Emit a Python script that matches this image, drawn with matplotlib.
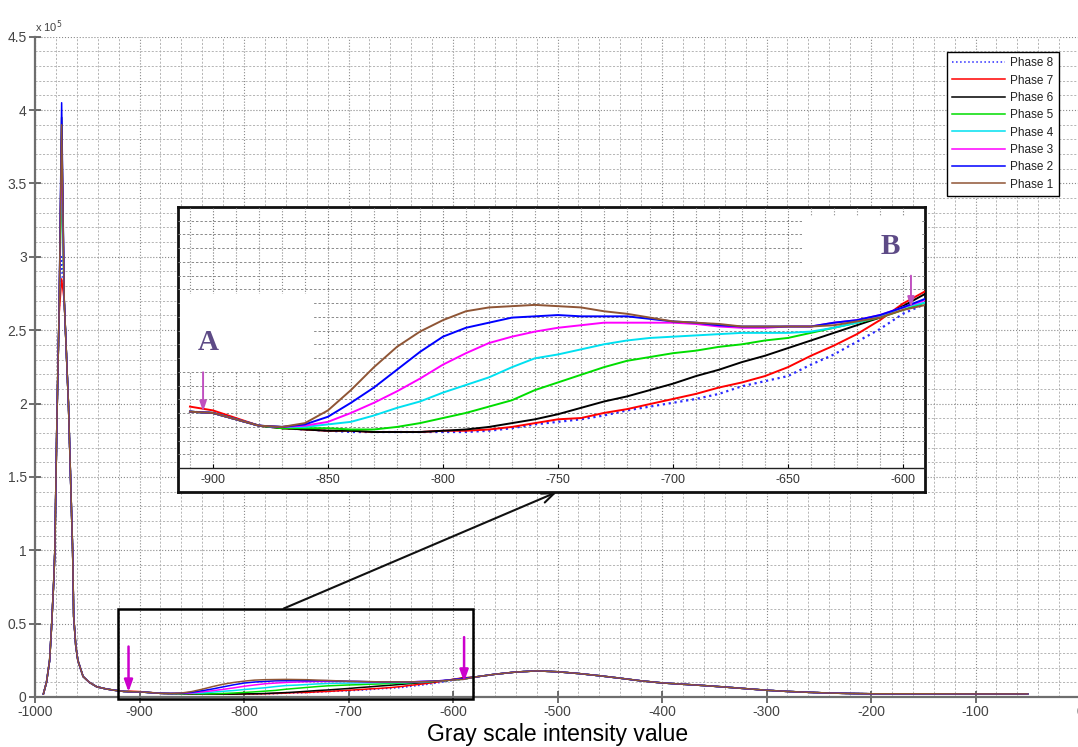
import numpy as np
import matplotlib
matplotlib.use('Agg')
import matplotlib.pyplot as plt
from matplotlib.ticker import MultipleLocator, FixedLocator, FixedFormatter, NullFormatter
from matplotlib.patches import Rectangle

plt.rcParams['font.family'] = ['Liberation Sans', 'DejaVu Sans']
plt.rcParams['axes.unicode_minus'] = False

W, H = 1078, 747

# ---------------- data (counts in units of 1e5) ----------------
phase_names = ['Phase 8', 'Phase 7', 'Phase 6', 'Phase 5', 'Phase 4', 'Phase 3', 'Phase 2', 'Phase 1']
phase_colors = ['#2a2aff', '#ff0000', '#000000', '#00dd00', '#00e0f0', '#ff00ff', '#0000ff', '#8f5535']
phase_styles = [':', '-', '-', '-', '-', '-', '-', '-']

# rising edge of the air peak (shared by all phases)
x_rise = [-992, -989, -986, -984, -982, -981, -979, -977]
y_rise = [0.02, 0.10, 0.25, 0.50, 0.80, 1.00, 1.90, 2.60]
# peak position and per-phase peak heights (Phase 8 ... Phase 1)
x_top = -974.5
peak_heights = [3.00, 2.85, 3.95, 3.50, 3.70, 3.80, 4.05, 3.90]
# falling edge of the air peak (shared)
x_fall = [-972, -968, -966, -964, -963, -961, -959, -954, -948, -941, -932, -924, -915]
y_fall = [2.70, 2.00, 1.50, 1.00, 0.55, 0.35, 0.25, 0.14, 0.10, 0.07, 0.055, 0.046, 0.038]

# region of interest (-910 ... -590, step 10), per phase
x_mid = list(range(-910, -580, 10))
mid_p8 = [0.036, 0.035, 0.030, 0.025, 0.023, 0.022, 0.021, 0.020, 0.020, 0.020, 0.020, 0.020, 0.020,
          0.021, 0.023, 0.026, 0.028, 0.030, 0.033, 0.037, 0.040, 0.043, 0.046, 0.050, 0.056, 0.060,
          0.064, 0.073, 0.081, 0.091, 0.101, 0.113, 0.121]
mid_p7 = [0.040, 0.037, 0.031, 0.025, 0.023, 0.022, 0.021, 0.021, 0.020, 0.020, 0.020, 0.021, 0.021,
          0.022, 0.024, 0.027, 0.030, 0.031, 0.035, 0.038, 0.042, 0.046, 0.050, 0.055, 0.059, 0.064,
          0.071, 0.080, 0.088, 0.097, 0.108, 0.121, 0.131]
mid_p6 = [0.036, 0.035, 0.030, 0.025, 0.023, 0.022, 0.021, 0.021, 0.020, 0.020, 0.020, 0.021, 0.022,
          0.024, 0.027, 0.030, 0.034, 0.039, 0.044, 0.048, 0.053, 0.058, 0.064, 0.069, 0.075, 0.080,
          0.086, 0.092, 0.098, 0.104, 0.110, 0.119, 0.129]
mid_p5 = [0.036, 0.035, 0.030, 0.025, 0.023, 0.023, 0.023, 0.022, 0.022, 0.024, 0.027, 0.031, 0.035,
          0.040, 0.045, 0.053, 0.059, 0.065, 0.071, 0.076, 0.079, 0.082, 0.084, 0.087, 0.089, 0.092,
          0.094, 0.098, 0.102, 0.106, 0.110, 0.116, 0.122]
mid_p4 = [0.036, 0.035, 0.030, 0.025, 0.024, 0.024, 0.026, 0.028, 0.033, 0.039, 0.044, 0.051, 0.057,
          0.063, 0.071, 0.078, 0.081, 0.085, 0.089, 0.092, 0.094, 0.095, 0.096, 0.097, 0.098, 0.098,
          0.098, 0.099, 0.102, 0.106, 0.111, 0.118, 0.122]
mid_p3 = [0.036, 0.035, 0.030, 0.025, 0.024, 0.025, 0.028, 0.035, 0.043, 0.052, 0.062, 0.073, 0.082,
          0.090, 0.095, 0.099, 0.102, 0.104, 0.106, 0.106, 0.106, 0.106, 0.105, 0.103, 0.102, 0.102,
          0.103, 0.103, 0.106, 0.108, 0.112, 0.118, 0.124]
mid_p2 = [0.036, 0.035, 0.030, 0.025, 0.024, 0.026, 0.032, 0.043, 0.055, 0.069, 0.083, 0.095, 0.102,
          0.106, 0.110, 0.111, 0.112, 0.111, 0.111, 0.111, 0.109, 0.107, 0.106, 0.104, 0.103, 0.103,
          0.103, 0.103, 0.106, 0.108, 0.112, 0.118, 0.125]
mid_p1 = [0.036, 0.035, 0.030, 0.025, 0.024, 0.027, 0.037, 0.053, 0.071, 0.087, 0.099, 0.108, 0.115,
          0.118, 0.119, 0.120, 0.119, 0.118, 0.115, 0.113, 0.110, 0.107, 0.106, 0.105, 0.103, 0.103,
          0.103, 0.103, 0.104, 0.107, 0.110, 0.116, 0.120]
mid_values = [mid_p8, mid_p7, mid_p6, mid_p5, mid_p4, mid_p3, mid_p2, mid_p1]

# soft-tissue peak and tail (shared)
x_tail = [-580, -560, -540, -520, -500, -480, -460, -440, -420, -400, -380, -360, -340, -320, -300,
          -280, -260, -240, -220, -200, -150, -100, -50]
y_tail = [0.135, 0.155, 0.170, 0.178, 0.172, 0.160, 0.145, 0.128, 0.110, 0.096, 0.087, 0.078, 0.068,
          0.057, 0.046, 0.038, 0.032, 0.027, 0.024, 0.022, 0.022, 0.021, 0.021]

x_ticks = list(range(-1000, 1, 100))
y_ticks = [0, 0.5, 1, 1.5, 2, 2.5, 3, 3.5, 4, 4.5]
y_tick_labels = ['0', '0.5', '1', '1.5', '2', '2.5', '3', '3.5', '4', '4.5']
inset_ticks = [-900, -850, -800, -750, -700, -650, -600]

# ---------------- figure ----------------
fig = plt.figure(figsize=(W / 100, H / 100), dpi=100)
fig.patch.set_facecolor('white')

ax = fig.add_axes([35 / W, 1 - 697 / H, (1080 - 35) / W, (697 - 36.7) / H])
ax.set_xlim(-1000, 0)
ax.set_ylim(0, 4.5)

handles = []
for name, col, ls, pk, mid in zip(phase_names, phase_colors, phase_styles, peak_heights, mid_values):
    xs = x_rise + [x_top] + x_fall + x_mid + x_tail
    ys = y_rise + [pk] + y_fall + mid + y_tail
    ln, = ax.plot(xs, ys, color=col, ls=ls, lw=1.1, label=name, zorder=3)
    handles.append(ln)

ax.set_xticks(x_ticks)
ax.set_yticks(y_ticks)
ax.yaxis.set_major_formatter(FixedFormatter(y_tick_labels))
ax.xaxis.set_minor_locator(MultipleLocator(20))
ax.yaxis.set_minor_locator(MultipleLocator(0.1))
ax.tick_params(which='major', direction='inout', length=8, width=1.2, color='#555',
               labelsize=10, labelcolor='#444', pad=2)
ax.tick_params(which='minor', length=0)
ax.set_axisbelow(True)
ax.grid(True, which='major', ls=':', color='#8a8a8a', lw=0.8)
ax.grid(True, which='minor', ls=(0, (2.5, 2)), color='#aaaaaa', lw=0.6)
for s in ['top', 'right']:
    ax.spines[s].set_visible(False)
for s in ['left', 'bottom']:
    ax.spines[s].set_color('#6e6e6e')
    ax.spines[s].set_linewidth(1.6)

# zoom rectangle and pointers in the main plot
ax.add_patch(Rectangle((-920.5, -0.016), 339.5, 0.619, fill=False, ec='black', lw=1.8,
                       clip_on=False, zorder=6))
ax.annotate('', xy=(557 / W, 1 - 492 / H), xycoords='figure fraction',
            xytext=(-762, 0.603), textcoords='data',
            arrowprops=dict(arrowstyle='->,head_length=0.9,head_width=0.35', lw=1.5, color='#111',
                            shrinkA=0, shrinkB=0),
            annotation_clip=False, zorder=6)
for xa, y0, y1 in [(-910.5, 0.344, 0.034), (-589.4, 0.408, 0.103)]:
    ax.annotate('', xy=(xa, y1), xytext=(xa, y0),
                arrowprops=dict(arrowstyle='-|>,head_length=0.7,head_width=0.25', lw=1.8,
                                color='#cc00cc', shrinkA=0, shrinkB=0), zorder=7)

fig.text(35 / W, 1 - 27 / H, r'x 10$^5$', fontsize=8, color='#444', va='center', ha='left')
fig.text(558 / W, 1 - 734 / H, 'Gray scale intensity value', fontsize=16.5, color='black',
         ha='center', va='center')

# legend
leg = fig.legend(handles, phase_names, loc='upper left', bbox_to_anchor=(947 / W, 1 - 52 / H),
                 bbox_transform=fig.transFigure, fontsize=8.5, handlelength=4.5, handletextpad=0.4,
                 labelspacing=0.45, borderpad=0.45, fancybox=False, framealpha=1,
                 edgecolor='black', borderaxespad=0)
leg.get_frame().set_linewidth(1.0)
for t in leg.get_texts():
    t.set_color('#222')

# ---------------- inset ----------------
ax_bg = fig.add_axes([178 / W, 1 - 492 / H, (925 - 178) / W, (492 - 207) / H])
ax_bg.set_facecolor('white')
ax_bg.set_xticks([])
ax_bg.set_yticks([])
for s in ax_bg.spines.values():
    s.set_linewidth(2.0)
    s.set_color('#111')

ax2 = fig.add_axes([178 / W, 1 - 468 / H, (925 - 178) / W, (468 - 207) / H])
ax2.set_facecolor('none')
ax2.set_xlim(-915.2, -590.4)
ax2.set_ylim(-0.0083, 0.197)
for name, col, ls, mid in zip(phase_names, phase_colors, phase_styles, mid_values):
    ax2.plot(x_mid, mid, color=col, ls=ls, lw=1.4 if ls == '-' else 1.6, zorder=3)

ax2.set_xticks(inset_ticks)
ax2.xaxis.set_minor_locator(MultipleLocator(10))
ylo, yhi = ax2.get_ylim()
ax2.yaxis.set_major_locator(FixedLocator(list(np.linspace(ylo, yhi, 20)[1:-1])))
ax2.yaxis.set_major_formatter(NullFormatter())
ax2.tick_params(axis='y', length=0)
ax2.tick_params(axis='x', which='major', length=3, direction='in', labelsize=9,
                labelcolor='#333', pad=4)
ax2.tick_params(axis='x', which='minor', length=0)
ax2.set_axisbelow(True)
ax2.grid(True, which='major', axis='x', ls=':', color='#777', lw=0.8)
ax2.grid(True, which='minor', axis='x', ls=':', color='#888', lw=0.8)
ax2.grid(True, which='major', axis='y', ls=(0, (2.5, 2)), color='#8a8a8a', lw=0.7)
for s in ['top', 'left', 'right']:
    ax2.spines[s].set_visible(False)
ax2.spines['bottom'].set_color('#222')
ax2.spines['bottom'].set_linewidth(1.0)

# white label patches
for (px0, py0, px1, py1) in [(180, 294, 313, 372), (802, 216, 922, 272)]:
    ax2.add_patch(Rectangle((px0 / W, 1 - py1 / H), (px1 - px0) / W, (py1 - py0) / H,
                            transform=fig.transFigure, fc='white', ec='none', zorder=1))

fig.text(208 / W, 1 - 343 / H, 'A', fontsize=21, color='#5d4a86', fontweight='bold',
         family='Liberation Serif', ha='center', va='center')
fig.text(890 / W, 1 - 247 / H, 'B', fontsize=21, color='#5d4a86', fontweight='bold',
         family='Liberation Serif', ha='center', va='center')
for xa, y0, y1 in [(-904.3, 0.067, 0.036), (-596.5, 0.143, 0.118)]:
    ax2.annotate('', xy=(xa, y1), xytext=(xa, y0),
                 arrowprops=dict(arrowstyle='-|>,head_length=0.6,head_width=0.2', lw=1.4,
                                 color='#c050c0', shrinkA=0, shrinkB=0), zorder=6)

fig.savefig('out.png', dpi=100, facecolor='white')
